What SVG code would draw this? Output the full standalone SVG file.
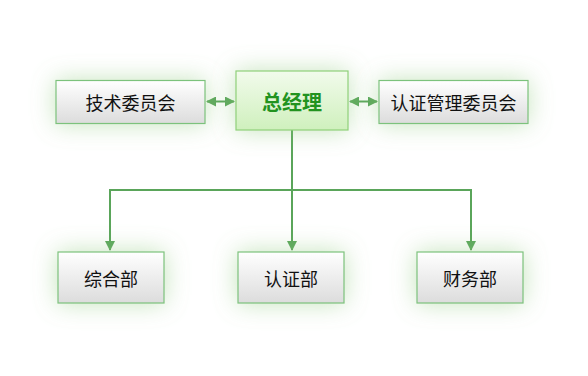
<svg xmlns="http://www.w3.org/2000/svg" width="588" height="376" viewBox="0 0 588 376">
<style>
.box{fill:url(#gGray);stroke:#7cc27c;stroke-width:1.2;filter:url(#glow)}
.boss{fill:url(#gGreen);stroke:#8fd07a;stroke-width:1.2;filter:url(#glow)}
.t{font-family:"Noto Sans CJK SC","Noto Sans",sans-serif;font-size:18px;fill:#111;text-anchor:middle;dominant-baseline:central}
.tb{font-family:"Noto Sans CJK SC","Noto Sans",sans-serif;font-size:20px;font-weight:bold;fill:#22931f;text-anchor:middle;dominant-baseline:central}
.ln{stroke:#5aa55a;stroke-width:2;fill:none}
</style>
<defs>
<linearGradient id="gGray" x1="0" y1="0" x2="0" y2="1">
<stop offset="0" stop-color="#ffffff"/><stop offset="1" stop-color="#dcdcdc"/>
</linearGradient>
<linearGradient id="gGreen" x1="0" y1="0" x2="0" y2="1">
<stop offset="0" stop-color="#f2fbec"/><stop offset="1" stop-color="#cff0bd"/>
</linearGradient>
<filter id="glow" x="-50%" y="-80%" width="200%" height="260%">
<feGaussianBlur in="SourceAlpha" stdDeviation="12" result="b"/>
<feFlood flood-color="#8cc97a" flood-opacity="0.5"/>
<feComposite in2="b" operator="in" result="s"/>
<feMerge><feMergeNode in="s"/><feMergeNode in="SourceGraphic"/></feMerge>
</filter>
<marker id="ah" viewBox="0 0 10 10" refX="9" refY="5" markerWidth="5" markerHeight="5" orient="auto-start-reverse" markerUnits="strokeWidth">
<path d="M0,0 L10,5 L0,10 z" fill="#5aa55a"/>
</marker>
</defs>
<g id="connectors">
<line class="ln" x1="207" y1="101.5" x2="234" y2="101.5" marker-start="url(#ah)" marker-end="url(#ah)"/>
<line class="ln" x1="350" y1="101.5" x2="377" y2="101.5" marker-start="url(#ah)" marker-end="url(#ah)"/>
<polyline class="ln" points="292,130 292,190"/>
<polyline class="ln" points="110,250 110,190 471,190 471,250" marker-start="url(#ah)" marker-end="url(#ah)"/>
<line class="ln" x1="292" y1="190" x2="292" y2="250" marker-end="url(#ah)"/>
</g>
<g id="n-tech"><rect class="box" x="56" y="80.5" width="149" height="43"/><text class="t" x="130.5" y="102">技术委员会</text></g>
<g id="n-gm"><rect class="boss" x="236" y="71" width="112" height="59"/><text class="tb" x="292" y="101">总经理</text></g>
<g id="n-cert"><rect class="box" x="379" y="80.5" width="149" height="43"/><text class="t" x="453.5" y="102">认证管理委员会</text></g>
<g id="n-zh"><rect class="box" x="58" y="252" width="106" height="51"/><text class="t" x="111" y="277.5">综合部</text></g>
<g id="n-rz"><rect class="box" x="238" y="252" width="106" height="51"/><text class="t" x="291" y="277.5">认证部</text></g>
<g id="n-cw"><rect class="box" x="417" y="252" width="106" height="51"/><text class="t" x="470" y="277.5">财务部</text></g>
</svg>
